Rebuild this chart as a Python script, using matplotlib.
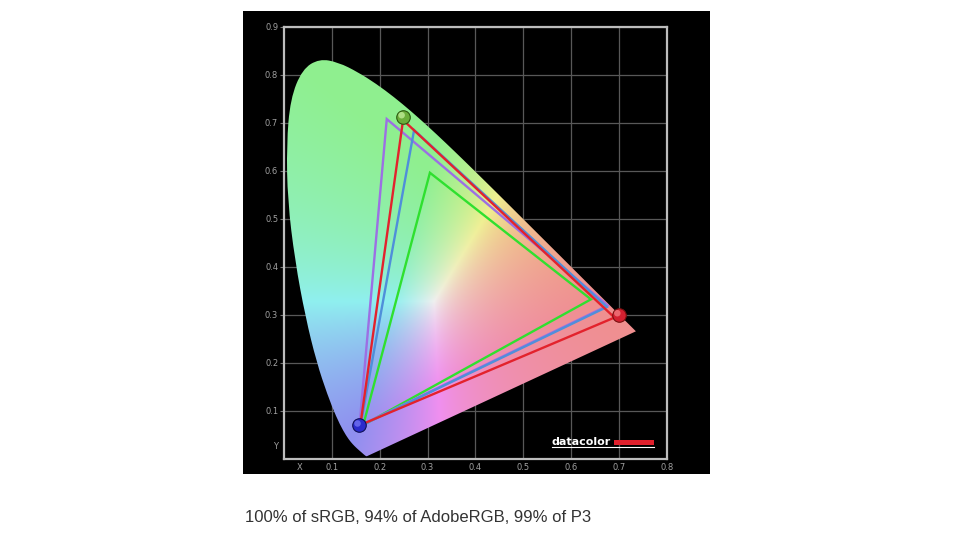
"""
Gamut coverage chart: CIE 1931 xy diagram with sRGB, AdobeRGB, P3 and
measured display triangles on a black panel, caption below.
"""
import matplotlib
matplotlib.use("Agg")
import matplotlib.pyplot as plt
import numpy as np
from matplotlib.patches import PathPatch, Rectangle
from matplotlib.path import Path

# ── Data ─────────────────────────────────────────────────────────────────────
# CIE 1931 spectral locus (x, y), 380 nm → 700 nm
LOCUS_X = [0.1741, 0.1738, 0.1733, 0.1726, 0.1714, 0.1689, 0.1644, 0.1611,
           0.1566, 0.1510, 0.1440, 0.1355, 0.1241, 0.1096, 0.0913, 0.0687,
           0.0454, 0.0235, 0.0082, 0.0060, 0.0139, 0.0389, 0.0743, 0.1142,
           0.1547, 0.1929, 0.2296, 0.2658, 0.3016, 0.3373, 0.3731, 0.4087,
           0.4441, 0.4788, 0.5125, 0.5448, 0.5752, 0.6029, 0.6270, 0.6482,
           0.6658, 0.6801, 0.6915, 0.7006, 0.7079, 0.7140, 0.7190, 0.7230,
           0.7260, 0.7300, 0.7320, 0.7347]
LOCUS_Y = [0.0050, 0.0049, 0.0048, 0.0048, 0.0051, 0.0069, 0.0109, 0.0138,
           0.0177, 0.0227, 0.0297, 0.0399, 0.0578, 0.0868, 0.1327, 0.2007,
           0.2950, 0.4127, 0.5384, 0.6548, 0.7502, 0.8120, 0.8338, 0.8262,
           0.8059, 0.7816, 0.7543, 0.7243, 0.6923, 0.6589, 0.6245, 0.5896,
           0.5547, 0.5202, 0.4866, 0.4544, 0.4242, 0.3965, 0.3725, 0.3514,
           0.3340, 0.3197, 0.3083, 0.2993, 0.2920, 0.2859, 0.2809, 0.2770,
           0.2740, 0.2700, 0.2680, 0.2653]

# Triangles: (x of R, G, B), (y of R, G, B)
SRGB_X, SRGB_Y = [0.641, 0.305, 0.166], [0.332, 0.596, 0.070]
ADOBE_X, ADOBE_Y = [0.676, 0.215, 0.158], [0.319, 0.708, 0.068]
P3_X, P3_Y = [0.674, 0.272, 0.160], [0.316, 0.685, 0.068]
PANEL_X, PANEL_Y = [0.690, 0.249, 0.160], [0.294, 0.706, 0.070]

# Primary markers (measured panel): red, green, blue
BALL_X = [0.699, 0.249, 0.157]
BALL_Y = [0.299, 0.712, 0.069]

X_TICKS = [0.1, 0.2, 0.3, 0.4, 0.5, 0.6, 0.7, 0.8]
Y_TICKS = [0.1, 0.2, 0.3, 0.4, 0.5, 0.6, 0.7, 0.8, 0.9]

CAPTION = "100% of sRGB, 94% of AdobeRGB, 99% of P3"

# ── Style ────────────────────────────────────────────────────────────────────
W, H = 970, 546
LABEL_COLOR = "#a0a0a0"
TRIANGLES = [
    (SRGB_X, SRGB_Y, "#2fe02f"),
    (ADOBE_X, ADOBE_Y, "#9c6fe4"),
    (P3_X, P3_Y, "#4f8fda"),
    (PANEL_X, PANEL_Y, "#e3222c"),
]
BALLS = [("#d42030", "#7a1010", "#f27a80"),
         ("#6aae3a", "#2d5a10", "#c0ec98"),
         ("#2a2acc", "#10105a", "#7272f2")]


def smooth_outline(xs, ys):
    """Closed path through the locus with rounded (quadratic) joins."""
    pts = np.column_stack([xs, ys])
    # repeat the two ends of the purple line so its corners stay crisp
    pts = np.vstack([pts[:1], pts, pts[-1:]])
    n = len(pts)
    mids = (pts + np.roll(pts, -1, axis=0)) / 2
    verts = [mids[-1]]
    codes = [Path.MOVETO]
    for i in range(n):
        verts += [pts[i], mids[i]]
        codes += [Path.CURVE3, Path.CURVE3]
    verts.append(mids[-1])
    codes.append(Path.CLOSEPOLY)
    return Path(np.array(verts), codes)


def chromaticity_image(nx=480, ny=540):
    """Pastel RGB image of the xy plane (white near D65)."""
    xs = np.linspace(0, 0.8, nx)
    ys = np.linspace(0.001, 0.9, ny)
    gx, gy = np.meshgrid(xs, ys)
    X = gx / gy
    Z = (1 - gx - gy) / gy
    xyz = np.stack([X, np.ones_like(X), Z], axis=-1)
    m = np.array([[3.2406, -1.5372, -0.4986],
                  [-0.9689, 1.8758, 0.0415],
                  [0.0557, -0.2040, 1.0570]])
    rgb = np.clip(xyz @ m.T, 0, None)
    rgb = rgb / rgb.max(axis=-1, keepdims=True)
    return np.clip(0.94 * (0.6 + 0.4 * rgb), 0, 1)


fig = plt.figure(figsize=(W / 100, H / 100), dpi=100)
fig.patch.set_facecolor("white")

# black panel behind the chart
fig.add_artist(Rectangle((243 / W, 1 - 474 / H), 467 / W, 463 / H,
                         transform=fig.transFigure, facecolor="black",
                         edgecolor="none", zorder=0))

ax = fig.add_axes([283.7 / W, 1 - 458.5 / H, 383.5 / W, 431.5 / H])
ax.set_facecolor("black")
ax.set_xlim(0, 0.8)
ax.set_ylim(0, 0.9)
ax.set_axisbelow(True)

# gamut horseshoe
locus = PathPatch(smooth_outline(LOCUS_X, LOCUS_Y), facecolor="none",
                  edgecolor="none", transform=ax.transData)
ax.add_patch(locus)
img = ax.imshow(chromaticity_image(), origin="lower", extent=[0, 0.8, 0, 0.9],
                aspect="auto", interpolation="bilinear", zorder=1)
img.set_clip_path(locus)

for tx, ty, color in TRIANGLES:
    ax.fill(tx, ty, facecolor="none", edgecolor=color, linewidth=1.7,
            joinstyle="miter", zorder=3)

for bx, by, (face, edge, light) in zip(BALL_X, BALL_Y, BALLS):
    ax.scatter([bx], [by], s=95, color=face, edgecolors=edge,
               linewidths=0.8, zorder=5)
    ax.scatter([bx - 0.003], [by + 0.004], s=22, color=light,
               edgecolors="none", alpha=0.8, zorder=6)

# grid, frame and tick labels
ax.grid(True, color="#585858", linewidth=0.9)
for spine in ax.spines.values():
    spine.set_color("#bdbdbd")
    spine.set_linewidth(1.6)
ax.set_xticks(X_TICKS)
ax.set_xticklabels([f"{v:.1f}" for v in X_TICKS])
ax.set_yticks(Y_TICKS)
ax.set_yticklabels([f"{v:.1f}" for v in Y_TICKS])
ax.tick_params(axis="x", length=0, pad=3, labelsize=6, labelcolor=LABEL_COLOR)
ax.tick_params(axis="y", length=3, pad=1, width=0.8, color="#777777",
               labelsize=6, labelcolor=LABEL_COLOR)
ax.text(0.033, -0.0085, "X", ha="center", va="top", fontsize=6,
        color=LABEL_COLOR, clip_on=False)
ax.text(-0.012, 0.025, "Y", ha="right", va="center", fontsize=6,
        color=LABEL_COLOR, clip_on=False)

# datacolor logo
ax.text(0.559, 0.028, "datacolor", ha="left", va="baseline", fontsize=8,
        fontweight="bold", color="white", zorder=6)
ax.add_patch(Rectangle((0.688, 0.028), 0.085, 0.011, facecolor="#e0202c",
                       edgecolor="none", zorder=6))
ax.plot([0.559, 0.773], [0.0235, 0.0235], color="white", linewidth=0.8,
        zorder=6)

fig.text(245 / W, 1 - 517 / H, CAPTION, ha="left", va="center", fontsize=12,
         family="Liberation Sans", color="#333333")

fig.savefig("out.png", dpi=100, facecolor=fig.get_facecolor())
